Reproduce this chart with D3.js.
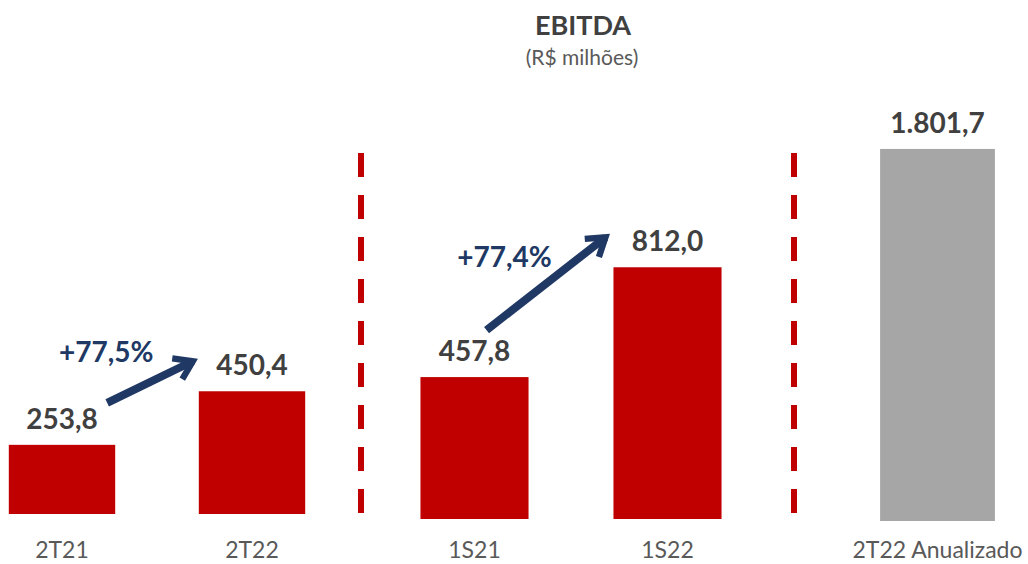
<!DOCTYPE html>
<html>
<head>
<meta charset="utf-8">
<script src="https://cdn.jsdelivr.net/npm/d3@7"></script>
<style>
  body { margin: 0; background: #fff; }
  text { font-family: Lato, "Open Sans", sans-serif; }
</style>
</head>
<body>
<div class="chart"></div>
<script>
// quarterly
var quarterCats = ["2T21", "2T22"];
var quarterVals = [253.8, 450.4];
var quarterLabels = ["253,8", "450,4"];
var quarterGrowth = "+77,5%";

// semester
var semesterCats = ["1S21", "1S22"];
var semesterVals = [457.8, 812.0];
var semesterLabels = ["457,8", "812,0"];
var semesterGrowth = "+77,4%";

// annualized
var annualCats = ["2T22 Anualizado"];
var annualVals = [1801.7];
var annualLabels = ["1.801,7"];

var width = 1028, height = 564;
var red = "#c00000", gray = "#a6a6a6", navy = "#203864";

var svg = d3.select(".chart")
    .append("svg")
    .attr("width", width)
    .attr("height", height);

svg.append("defs").append("marker")
    .attr("id", "head")
    .attr("viewBox", "0 0 10 10")
    .attr("refX", 7)
    .attr("refY", 5)
    .attr("markerWidth", 3.6)
    .attr("markerHeight", 3.6)
    .attr("markerUnits", "strokeWidth")
    .attr("orient", "auto")
    .append("path")
    .attr("d", "M1,1 L7,5 L1,9")
    .attr("fill", "none")
    .attr("stroke", navy)
    .attr("stroke-width", 2.2)
    .attr("stroke-linejoin", "miter");

svg.append("text")
    .attr("x", 583)
    .attr("y", 35)
    .attr("text-anchor", "middle")
    .style("font-size", "27px")
    .style("font-weight", "bold")
    .style("fill", "#404040")
    .text("EBITDA");

svg.append("text")
    .attr("x", 582)
    .attr("y", 65)
    .attr("text-anchor", "middle")
    .style("font-size", "21px")
    .style("fill", "#595959")
    .text("(R$ milhões)");

function group(cats, vals, labels, xr, yr, ymax, color) {
    var x = d3.scaleBand()
        .domain(cats)
        .range(xr)
        .paddingInner(0.44)
        .paddingOuter(0.22);

    var y = d3.scaleLinear()
        .domain([0, ymax])
        .range(yr);

    var g = svg.append("g");

    g.selectAll(".bar")
        .data(vals)
        .enter().append("rect")
        .attr("class", "bar")
        .attr("x", function(d, i) { return x(cats[i]); })
        .attr("y", function(d) { return y(d); })
        .attr("width", x.bandwidth())
        .attr("height", function(d) { return y(0) - y(d); })
        .style("fill", color);

    g.selectAll(".val")
        .data(vals)
        .enter().append("text")
        .attr("class", "val")
        .attr("x", function(d, i) { return x(cats[i]) + x.bandwidth() / 2; })
        .attr("y", function(d) { return y(d) - 16; })
        .attr("text-anchor", "middle")
        .style("font-size", "28px")
        .style("font-weight", "bold")
        .style("fill", "#404040")
        .text(function(d, i) { return labels[i]; });

    g.selectAll(".cat")
        .data(cats)
        .enter().append("text")
        .attr("class", "cat")
        .attr("x", function(d) { return x(d) + x.bandwidth() / 2; })
        .attr("y", 558)
        .attr("text-anchor", "middle")
        .style("font-size", "23px")
        .style("fill", "#595959")
        .text(function(d) { return d; });

    return {x: x, y: y};
}

function arrow(s, vals, cats, growth, tail, tip, lab) {
    var x0 = s.x(cats[0]) + s.x.bandwidth() + tail[0];
    var y0 = s.y(vals[0]) + tail[1];
    var x1 = s.x(cats[1]) + tip[0];
    var y1 = s.y(vals[1]) + tip[1];
    svg.append("line")
        .attr("x1", x0).attr("y1", y0)
        .attr("x2", x1).attr("y2", y1)
        .attr("stroke", navy)
        .attr("stroke-width", 8)
        .attr("marker-end", "url(#head)");
    svg.append("text")
        .attr("x", x0 + lab[0])
        .attr("y", s.y(vals[0]) + lab[1])
        .attr("text-anchor", "middle")
        .style("font-size", "28px")
        .style("font-weight", "bold")
        .style("fill", navy)
        .text(growth);
}

var g1 = group(quarterCats, quarterVals, quarterLabels, [-33, 347], [514, 241.5], 1000, red);
var g2 = group(semesterCats, semesterVals, semesterLabels, [378, 764], [519, 209], 1000, red);
var g3 = group(annualCats, annualVals, annualLabels, [835, 1040], [521, 108], 2000, gray);

arrow(g1, quarterVals, quarterCats, quarterGrowth, [-8, -42], [-6, -30], [-1, -83]);
arrow(g2, semesterVals, semesterCats, semesterGrowth, [-42, -47], [-8, -30], [18, -110]);

// dashed separators
var seps = [361, 794];
svg.selectAll(".sep")
    .data(seps)
    .enter().append("line")
    .attr("class", "sep")
    .attr("x1", function(d) { return d; })
    .attr("x2", function(d) { return d; })
    .attr("y1", 153)
    .attr("y2", 513)
    .attr("stroke", red)
    .attr("stroke-width", 6)
    .attr("stroke-dasharray", "24,18");
</script>
</body>
</html>
